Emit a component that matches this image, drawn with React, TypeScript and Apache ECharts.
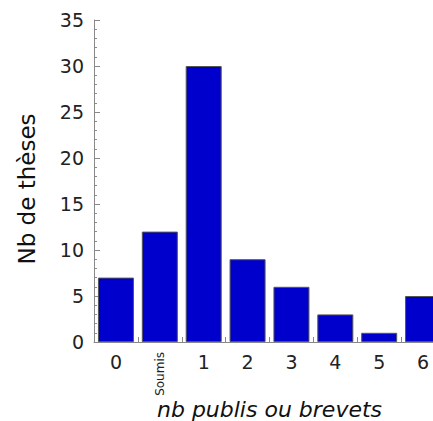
import React, { useEffect, useRef } from "react";
import * as echarts from "echarts";

const categories = ["0", "Soumis", "1", "2", "3", "4", "5", "6"];
const values = [7, 12, 30, 9, 6, 3, 1, 5];
const yTicks = { min: 0, max: 35, interval: 5 };
const yName = "Nb de thèses";
const xName = "nb publis ou brevets";

export default function App() {
  const ref = useRef<HTMLDivElement>(null);
  useEffect(() => {
    if (!ref.current) return;
    const chart = echarts.init(ref.current, null, { renderer: "svg" });
    const font = "DejaVu Sans";
    chart.setOption({
      animation: false,
      grid: {
        left: 94,
        top: 20,
        width: 351,
        height: 322,
        containLabel: false,
        outerBoundsMode: "none",
      },
      xAxis: [
        {
          type: "category",
          data: categories,
          boundaryGap: true,
          axisLine: { lineStyle: { color: "#888", width: 1 } },
          axisTick: { show: true, inside: true, length: 5, lineStyle: { color: "#888" } },
          axisLabel: {
            fontFamily: font,
            fontSize: 19,
            color: "#222",
            margin: 10,
            formatter: (v: string) => (v === "Soumis" ? "" : v),
          },
          name: xName,
          nameLocation: "middle",
          nameGap: 56,
          nameTextStyle: { fontFamily: font, fontSize: 22, fontStyle: "italic", color: "#111" },
        },
        {
          type: "category",
          data: categories,
          position: "bottom",
          gridIndex: 0,
          axisLine: { show: false },
          axisTick: { show: false },
          axisLabel: {
            rotate: 90,
            fontFamily: font,
            fontSize: 12,
            color: "#222",
            margin: 10,
            formatter: (v: string) => (v === "Soumis" ? v : ""),
          },
        },
      ],
      yAxis: {
        type: "value",
        min: yTicks.min,
        max: yTicks.max,
        interval: yTicks.interval,
        splitLine: { show: false },
        axisLine: { show: true, lineStyle: { color: "#888", width: 1 } },
        axisTick: { show: true, inside: true, length: 6, lineStyle: { color: "#888" } },
        minorTick: { show: true, splitNumber: 5, length: 3, lineStyle: { color: "#888" } },
        axisLabel: { fontFamily: font, fontSize: 19, color: "#222", margin: 10 },
        name: yName,
        nameLocation: "middle",
        nameGap: 56,
        nameTextStyle: { fontFamily: font, fontSize: 23, color: "#111", padding: [0, 16, 0, 0] },
      },
      series: [
        {
          type: "bar",
          data: values,
          barWidth: 36,
          itemStyle: { color: "#0000CC", borderColor: "#555", borderWidth: 1 },
        },
      ],
    });
    return () => chart.dispose();
  }, []);
  return (
    <div
      ref={ref}
      style={{ position: "fixed", left: 0, top: 0, width: 433, height: 421, background: "#fff" }}
    />
  );
}
